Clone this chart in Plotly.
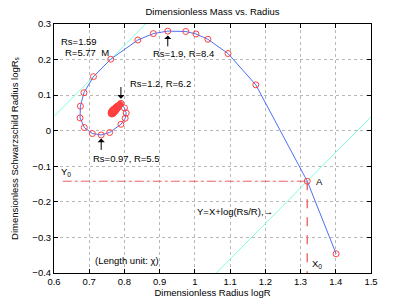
import plotly.graph_objects as go

# Main curve (log R, log Rs)
logR = [1.401, 1.319, 1.173, 1.094, 1.037, 1.003, 0.974, 0.923, 0.882, 0.838,
        0.761, 0.712, 0.685, 0.675, 0.674, 0.686, 0.709, 0.734, 0.758, 0.790,
        0.802, 0.805, 0.800, 0.790]
logRs = [-0.346, -0.142, 0.129, 0.217, 0.257, 0.272, 0.279, 0.280, 0.273, 0.255,
         0.201, 0.152, 0.107, 0.069, 0.036, 0.009, -0.008, -0.012, -0.005, 0.018,
         0.035, 0.050, 0.064, 0.077]

# Inner spiral core (dense points)
coreR = [0.787, 0.785, 0.782, 0.779, 0.776, 0.773, 0.770, 0.767, 0.765, 0.763,
         0.762, 0.763, 0.765, 0.768, 0.771, 0.774, 0.777, 0.780, 0.783]
coreRs = [0.074, 0.072, 0.070, 0.068, 0.066, 0.063, 0.061, 0.058, 0.056, 0.053,
          0.050, 0.048, 0.047, 0.049, 0.052, 0.055, 0.059, 0.063, 0.067]

# Tangent lines Y = X + log(Rs/R)
tan1_x = [0.6, 0.86]
tan1_y = [0.04, 0.30]
tan2_x = [1.061, 1.5]
tan2_y = [-0.40, 0.039]

# Point A projections
A_x, A_y = 1.319, -0.142
hline_x = [0.625, A_x]
hline_y = [A_y, A_y]
vline_x = [A_x, A_x]
vline_y = [A_y, -0.40]

xticks = [0.6, 0.7, 0.8, 0.9, 1.0, 1.1, 1.2, 1.3, 1.4, 1.5]
yticks = [-0.4, -0.3, -0.2, -0.1, 0, 0.1, 0.2, 0.3]

FONT = "Liberation Sans, Arial, sans-serif"
BLUE = "#4f6ff5"
RED = "#ff4040"
CYAN = "#7fffd8"

fig = go.Figure()
fig.add_trace(go.Scatter(x=tan1_x, y=tan1_y, mode="lines", line=dict(color=CYAN, width=1)))
fig.add_trace(go.Scatter(x=tan2_x, y=tan2_y, mode="lines", line=dict(color=CYAN, width=1)))
fig.add_trace(go.Scatter(x=hline_x, y=hline_y, mode="lines",
                         line=dict(color="#f06060", width=1, dash="dashdot")))
fig.add_trace(go.Scatter(x=vline_x, y=vline_y, mode="lines",
                         line=dict(color="#f07070", width=1.5, dash="dash")))
fig.add_trace(go.Scatter(x=logR + coreR, y=logRs + coreRs, mode="lines",
                         line=dict(color=BLUE, width=1)))
fig.add_trace(go.Scatter(x=logR, y=logRs, mode="markers",
                         marker=dict(symbol="circle-open", size=6, color=RED,
                                     line=dict(width=1, color=RED))))
fig.add_trace(go.Scatter(x=coreR, y=coreRs, mode="markers",
                         marker=dict(symbol="circle", size=6, color=RED,
                                     line=dict(width=1, color=RED))))

def txt(x, y, s, xa="left", size=9.5):
    fig.add_annotation(x=x, y=y, text=s, showarrow=False, xanchor=xa, yanchor="middle",
                       font=dict(family=FONT, size=size, color="black"))

def arrow(x, y_tip, y_tail):
    fig.add_annotation(x=x, y=y_tip, ax=x, ay=y_tail, axref="x", ayref="y",
                       text="", showarrow=True, arrowhead=1, arrowsize=1.2,
                       arrowwidth=1, arrowcolor="black")

txt(0.615, 0.25, "Rs=1.59")
txt(0.625, 0.22, "R=5.77  M")
txt(0.875, 0.217, "Rs=1.9, R=8.4")
arrow(0.923, 0.268, 0.233)
txt(0.81, 0.133, "Rs=1.2, R=6.2")
arrow(0.79, 0.09, 0.127)
txt(0.705, -0.077, "Rs=0.97, R=5.5")
arrow(0.734, -0.022, -0.058)
txt(1.337, -0.142, "A")
txt(0.613, -0.117, "Y<sub>0</sub>")
txt(1.327, -0.375, "X<sub>0</sub>")
txt(1.0, -0.228, "Y=X+log(Rs/R),→")
txt(0.71, -0.364, "(Length unit: χ)")

fig.update_layout(
    width=409, height=308,
    margin=dict(l=54, r=38, t=24, b=35),
    paper_bgcolor="white", plot_bgcolor="white",
    showlegend=False,
    font=dict(family=FONT, size=9.5, color="black"),
    title=dict(text="Dimensionless Mass vs. Radius", x=212.5 / 409, xanchor="center",
               y=1 - 12 / 308, yanchor="middle", font=dict(family=FONT, size=9.5)),
)
axis_common = dict(showline=True, mirror="ticks", linecolor="black", linewidth=1,
                   ticks="inside", ticklen=4, tickcolor="black",
                   showgrid=True, gridcolor="#b8b8b8", griddash="dot", gridwidth=1,
                   zeroline=False, tickfont=dict(family=FONT, size=9.5),
                   automargin=False)
fig.update_xaxes(range=[0.6, 1.5], tickvals=xticks,
                 ticktext=[f"{v:g}" for v in xticks],
                 title=dict(text="Dimensionless Radius logR", standoff=2,
                            font=dict(family=FONT, size=9.5)),
                 **axis_common)
fig.update_yaxes(range=[-0.4, 0.3], tickvals=yticks,
                 ticktext=[("−" + f"{-v:g}") if v < 0 else f"{v:g}" for v in yticks],
                 title=dict(text="Dimensionless Schwarzschild Radius logR<sub>s</sub>",
                            standoff=12, font=dict(family=FONT, size=9.5)),
                 **axis_common)

fig.write_html("out.html", config={"displayModeBar": False},
               post_script="document.body.style.margin='0px';document.body.style.overflow='hidden';")
